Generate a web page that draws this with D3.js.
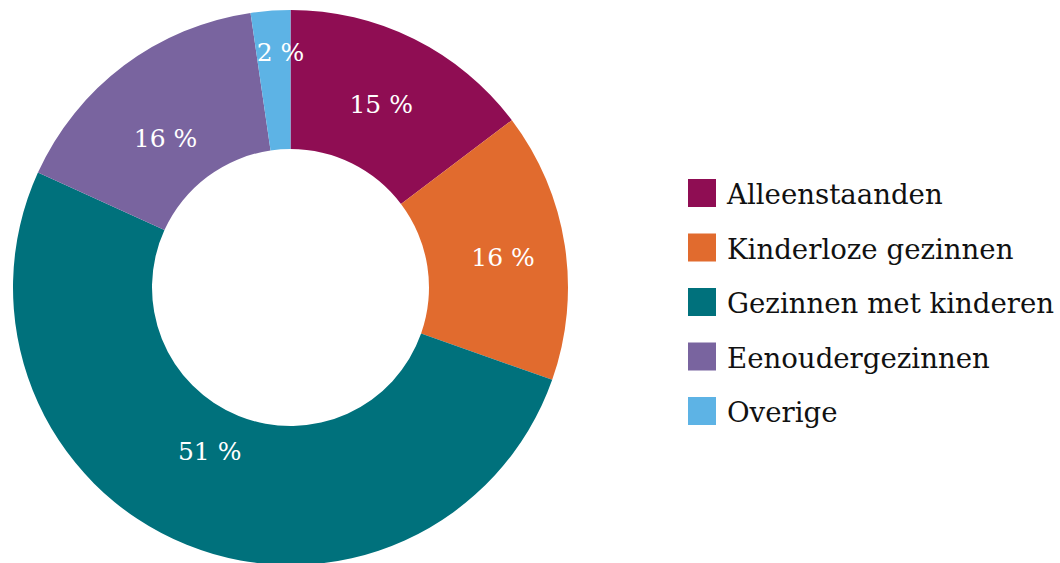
<!DOCTYPE html>
<html><head><meta charset="utf-8">
<script src="https://cdn.jsdelivr.net/npm/d3@7"></script>
<style>body{margin:0;background:#fff}svg{display:block}</style>
</head><body>
<svg id="c" width="1060" height="563"></svg>
<script>
const categories = ["Alleenstaanden","Kinderloze gezinnen","Gezinnen met kinderen","Eenoudergezinnen","Overige"];
const values = [14.7, 15.7, 51.4, 15.9, 2.3];
const labels = ["15 %","16 %","51 %","16 %","2 %"];
const colors = ["#8F0D53","#E16B2E","#00717C","#79649F","#5DB3E5"];
// label nudges from arc centroid (layout only)
const labelNudge = [[-2,3],[7,1],[-3,-29],[0,17],[5,-28]];

const svg = d3.select("#c");
const font = "Georgia, 'DejaVu Serif', 'Liberation Serif', serif";
const cx = 290.5, cy = 287.5, rOut = 277.5, rIn = 138.5;
const pie = d3.pie().sort(null).value(d => d)(values);
const arc = d3.arc().innerRadius(rIn).outerRadius(rOut);
const g = svg.append("g").attr("transform", `translate(${cx},${cy})`);
g.selectAll("path").data(pie).join("path").attr("d", arc).attr("fill", (d,i) => colors[i]);
g.selectAll("text").data(pie).join("text")
  .attr("transform", (d,i) => { const c = arc.centroid(d); return `translate(${c[0]+labelNudge[i][0]},${c[1]+labelNudge[i][1]})`; })
  .attr("text-anchor","middle").attr("dy","0.36em")
  .style("font-family", font).style("font-size","25px").attr("fill","#fff")
  .text((d,i) => labels[i]);

const y = d3.scalePoint().domain(categories).range([179, 397]);
const lg = svg.append("g");
const row = lg.selectAll("g").data(categories).join("g").attr("transform", d => `translate(688,${y(d)})`);
row.append("rect").attr("width",28).attr("height",28).attr("fill",(d,i)=>colors[i]);
row.append("text").attr("x",39).attr("y",25).style("font-family",font).style("font-size","27.6px").attr("fill","#111").text(d=>d);
</script>
</body></html>
